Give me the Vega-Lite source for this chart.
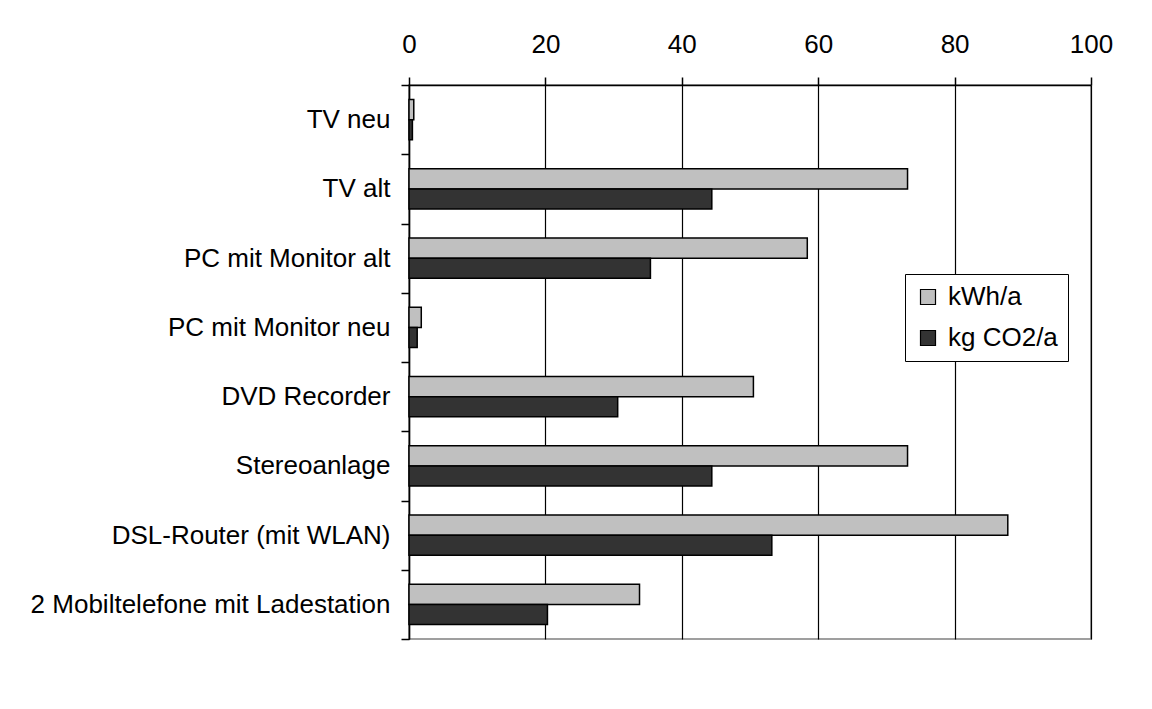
{
  "$schema": "https://vega.github.io/schema/vega-lite/v6.json",
  "width": 682,
  "height": 554,
  "autosize": {"type": "none"},
  "padding": {"left": 409, "top": 85, "right": 61, "bottom": 70},
  "background": "white",
  "config": {
    "font": "Liberation Sans",
    "view": {"stroke": "#808080", "strokeWidth": 1.5},
    "axis": {"labelFont": "Liberation Sans", "labelColor": "black"},
    "legend": {"labelFont": "Liberation Sans"}
  },
  "data": {
    "values": [
      {"Gerät": "TV neu", "Serie": "kWh/a", "Wert": 0.7},
      {"Gerät": "TV neu", "Serie": "kg CO2/a", "Wert": 0.5},
      {"Gerät": "TV alt", "Serie": "kWh/a", "Wert": 73.1},
      {"Gerät": "TV alt", "Serie": "kg CO2/a", "Wert": 44.4},
      {"Gerät": "PC mit Monitor alt", "Serie": "kWh/a", "Wert": 58.4},
      {"Gerät": "PC mit Monitor alt", "Serie": "kg CO2/a", "Wert": 35.4},
      {"Gerät": "PC mit Monitor neu", "Serie": "kWh/a", "Wert": 1.8},
      {"Gerät": "PC mit Monitor neu", "Serie": "kg CO2/a", "Wert": 1.2},
      {"Gerät": "DVD Recorder", "Serie": "kWh/a", "Wert": 50.5},
      {"Gerät": "DVD Recorder", "Serie": "kg CO2/a", "Wert": 30.6},
      {"Gerät": "Stereoanlage", "Serie": "kWh/a", "Wert": 73.1},
      {"Gerät": "Stereoanlage", "Serie": "kg CO2/a", "Wert": 44.4},
      {"Gerät": "DSL-Router (mit WLAN)", "Serie": "kWh/a", "Wert": 87.8},
      {"Gerät": "DSL-Router (mit WLAN)", "Serie": "kg CO2/a", "Wert": 53.2},
      {"Gerät": "2 Mobiltelefone mit Ladestation", "Serie": "kWh/a", "Wert": 33.8},
      {"Gerät": "2 Mobiltelefone mit Ladestation", "Serie": "kg CO2/a", "Wert": 20.3}
    ]
  },
  "mark": {"type": "bar", "stroke": "black", "strokeWidth": 1.5},
  "encoding": {
    "y": {
      "field": "Gerät",
      "type": "nominal",
      "sort": ["TV neu", "TV alt", "PC mit Monitor alt", "PC mit Monitor neu", "DVD Recorder", "Stereoanlage", "DSL-Router (mit WLAN)", "2 Mobiltelefone mit Ladestation"],
      "scale": {"paddingInner": 0, "paddingOuter": 0},
      "axis": {
        "title": null,
        "tickBand": "extent",
        "domainColor": "black",
        "domainWidth": 1.5,
        "tickColor": "black",
        "tickWidth": 1.5,
        "tickSize": 8,
        "labelFontSize": 26,
        "labelPadding": 11,
        "labelLimit": 500
      }
    },
    "yOffset": {
      "field": "Serie",
      "type": "nominal",
      "sort": ["kWh/a", "kg CO2/a"],
      "scale": {"paddingInner": 0, "paddingOuter": 0.73}
    },
    "x": {
      "field": "Wert",
      "type": "quantitative",
      "scale": {"domain": [0, 100], "nice": false},
      "axis": {
        "title": null,
        "orient": "top",
        "values": [0, 20, 40, 60, 80, 100],
        "grid": true,
        "gridColor": "black",
        "gridOpacity": 1,
        "gridWidth": 1.2,
        "domainColor": "black",
        "domainWidth": 1.5,
        "tickColor": "black",
        "tickWidth": 1.5,
        "tickSize": 8,
        "labelFontSize": 26,
        "labelPadding": 20,
        "labelFlush": false
      }
    },
    "fill": {
      "field": "Serie",
      "type": "nominal",
      "sort": ["kWh/a", "kg CO2/a"],
      "scale": {"domain": ["kWh/a", "kg CO2/a"], "range": ["#C0C0C0", "#333333"]},
      "legend": {
        "title": null,
        "orient": "none",
        "legendX": 496,
        "legendY": 189,
        "symbolType": "square",
        "symbolSize": 225,
        "symbolStrokeColor": "black",
        "symbolStrokeWidth": 1.2,
        "labelFontSize": 26,
        "labelOffset": 7,
        "rowPadding": 15,
        "padding": 10,
        "strokeColor": "black",
        "fillColor": "white",
        "cornerRadius": 0
      }
    }
  }
}
